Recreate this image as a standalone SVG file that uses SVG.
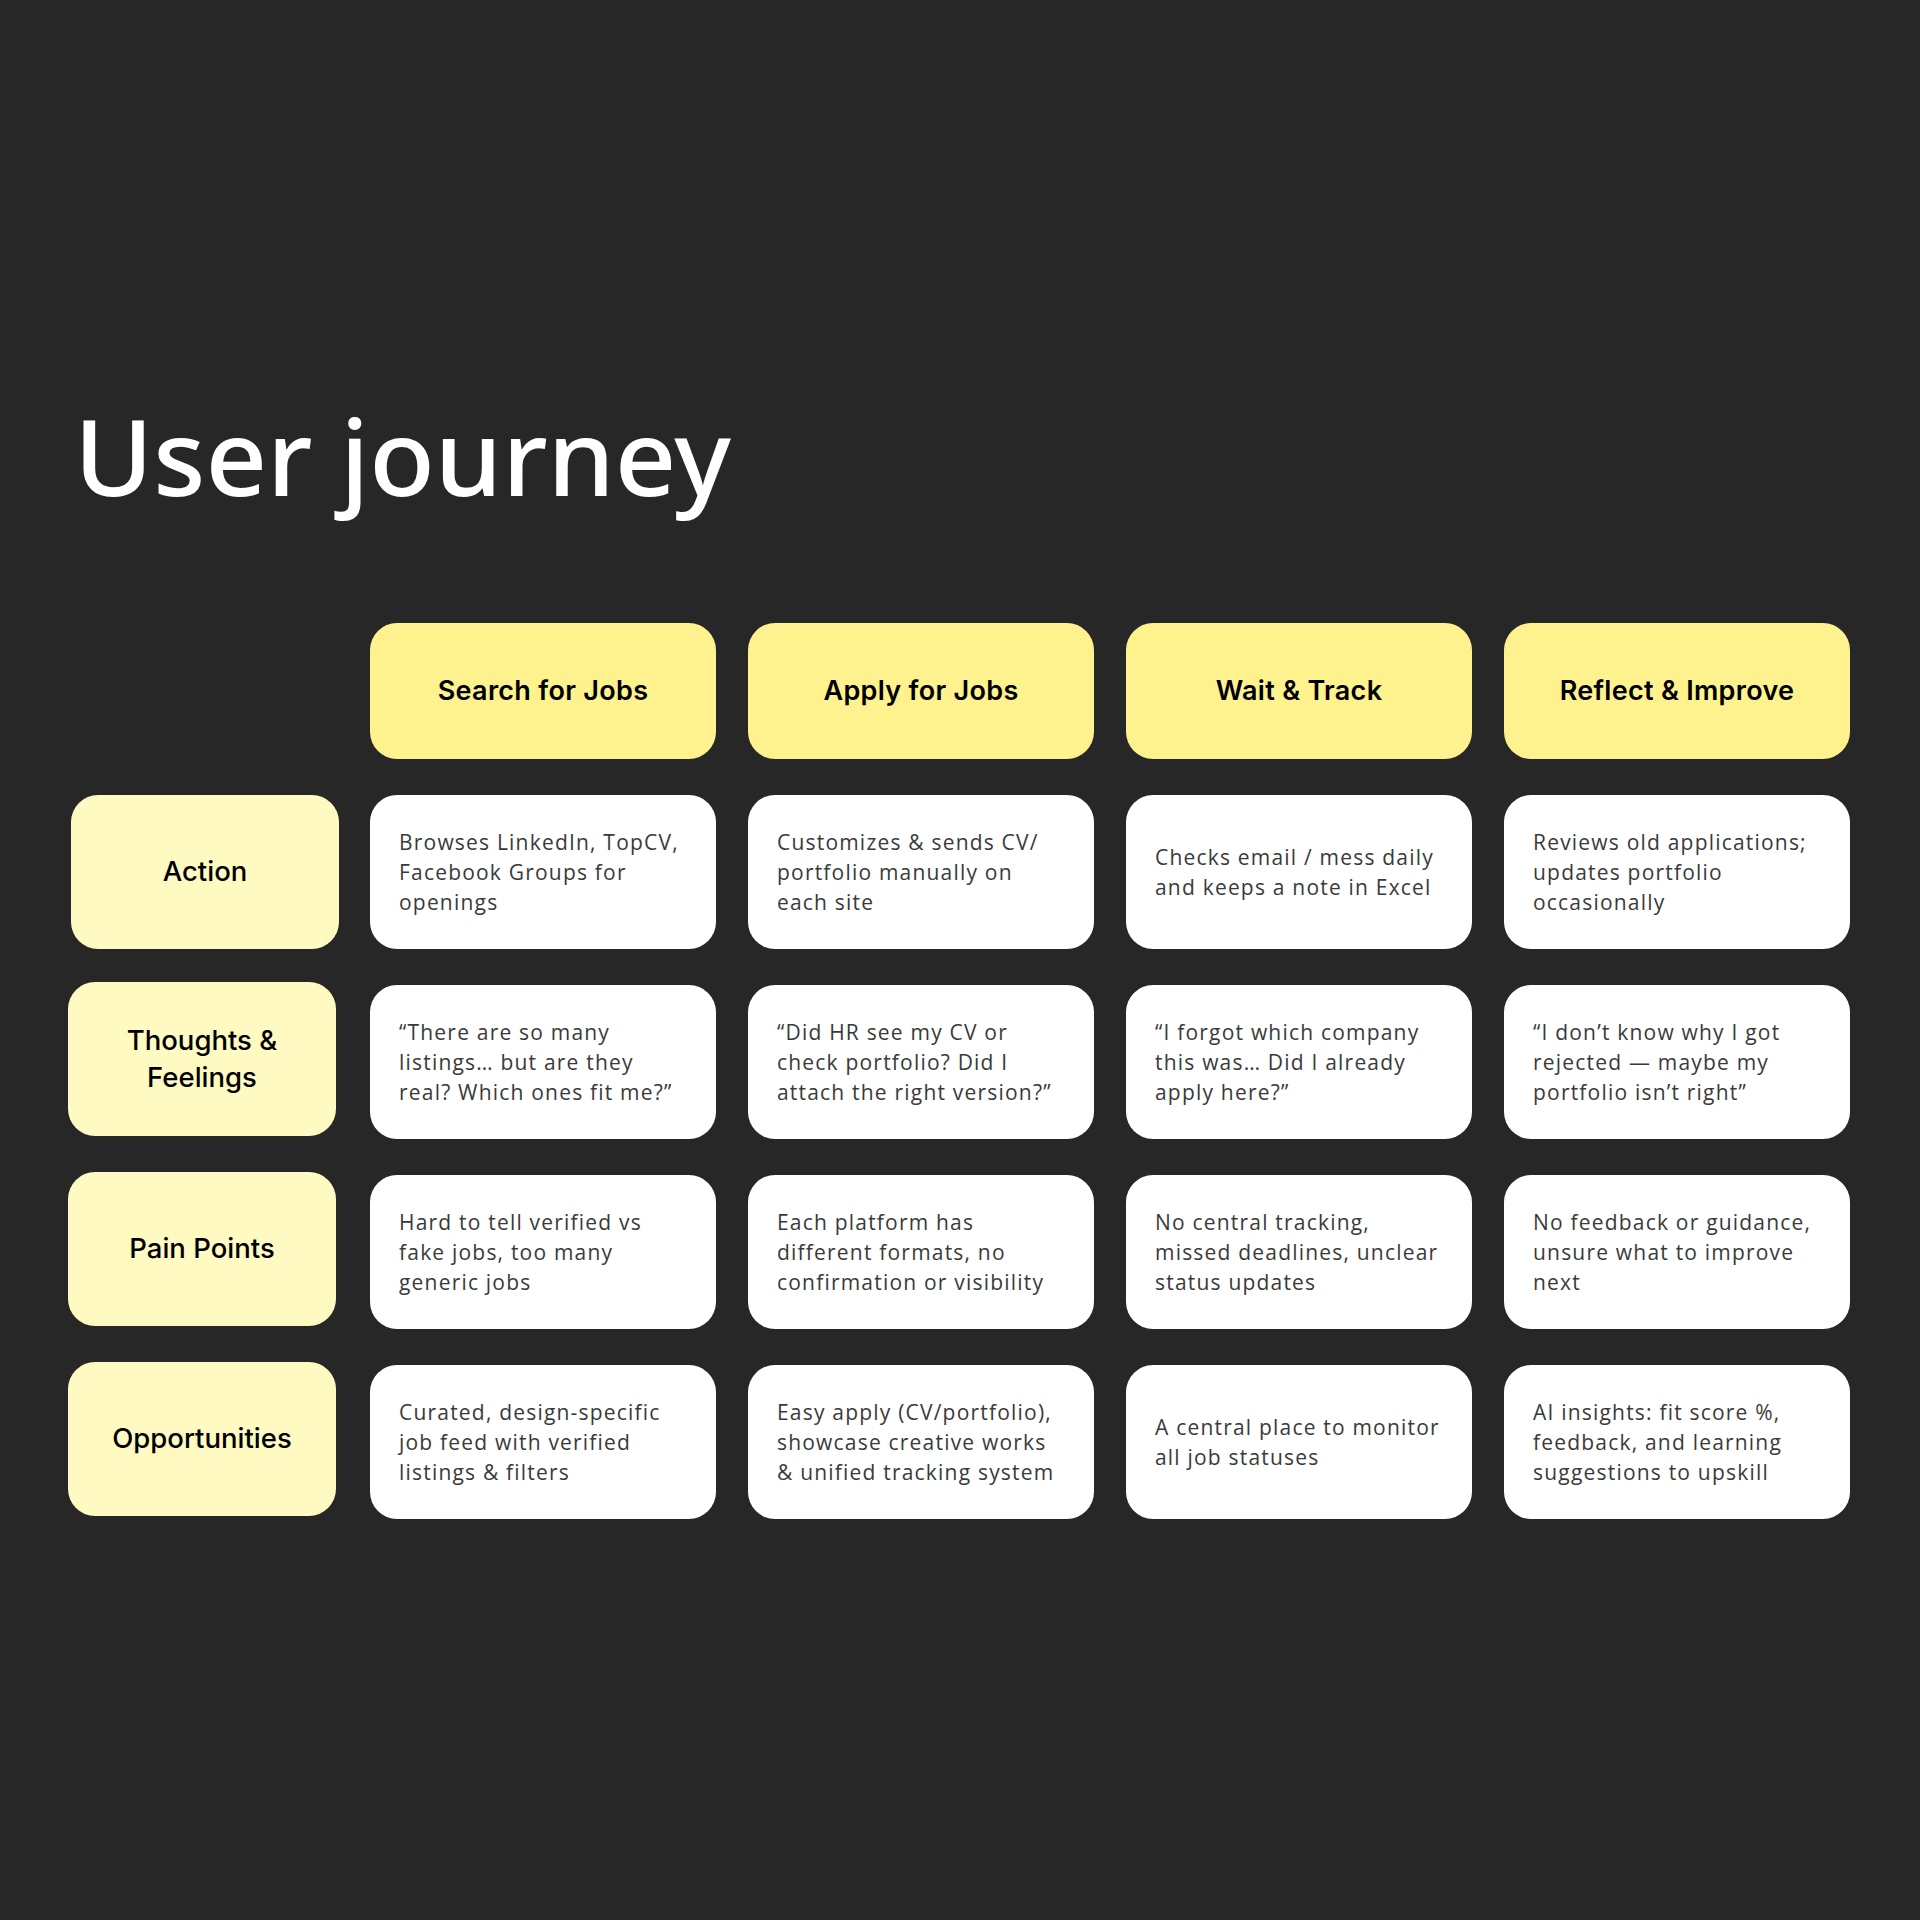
<svg xmlns="http://www.w3.org/2000/svg" width="1920" height="1920" viewBox="0 0 1920 1920">
<style>
.bg{fill:#272727}
.stage{fill:#FEF28E}
.lab{fill:#FEFAC2}
.cell{fill:#FFFFFF}
.title{font-family:"Noto Sans",sans-serif;font-weight:500;font-size:106px;fill:#FFFFFF}
.st{font-family:Inter,"Liberation Sans",sans-serif;font-weight:600;font-size:27px;fill:#000000;text-anchor:middle;letter-spacing:0.3px}
.lt{font-family:Inter,"Liberation Sans",sans-serif;font-weight:500;font-size:27.5px;fill:#000000;text-anchor:middle}
.bt{font-family:"Open Sans","Liberation Sans",sans-serif;font-size:21px;fill:#3A3A3A;letter-spacing:1.2px}
</style>
<rect class="bg" x="0" y="0" width="1920" height="1920"/>
<text class="title" x="74" y="496" textLength="657" lengthAdjust="spacingAndGlyphs">User journey</text>

<g id="stage-search"><rect class="stage" x="370" y="623" width="346" height="136" rx="27"/><text class="st" x="543" y="700">Search for Jobs</text></g>
<g id="stage-apply"><rect class="stage" x="748" y="623" width="346" height="136" rx="27"/><text class="st" x="921" y="700">Apply for Jobs</text></g>
<g id="stage-wait"><rect class="stage" x="1126" y="623" width="346" height="136" rx="27"/><text class="st" x="1299" y="700">Wait &amp; Track</text></g>
<g id="stage-reflect"><rect class="stage" x="1504" y="623" width="346" height="136" rx="27"/><text class="st" x="1677" y="700">Reflect &amp; Improve</text></g>

<g id="label-action"><rect class="lab" x="71" y="795" width="268" height="154" rx="27"/><text class="lt" x="205" y="881">Action</text></g>
<g id="label-thoughts"><rect class="lab" x="68" y="982" width="268" height="154" rx="27"/><text class="lt" x="202" y="1050">Thoughts &amp;</text><text class="lt" x="202" y="1087">Feelings</text></g>
<g id="label-pain"><rect class="lab" x="68" y="1172" width="268" height="154" rx="27"/><text class="lt" x="202" y="1258">Pain Points</text></g>
<g id="label-opp"><rect class="lab" x="68" y="1362" width="268" height="154" rx="27"/><text class="lt" x="202" y="1448">Opportunities</text></g>

<g id="action-search"><rect class="cell" x="370" y="795" width="346" height="154" rx="27"/><text class="bt"><tspan x="399" y="850">Browses LinkedIn, TopCV,</tspan><tspan x="399" y="880">Facebook Groups for</tspan><tspan x="399" y="910">openings</tspan></text></g>
<g id="action-apply"><rect class="cell" x="748" y="795" width="346" height="154" rx="27"/><text class="bt"><tspan x="777" y="850">Customizes &amp; sends CV/</tspan><tspan x="777" y="880">portfolio manually on</tspan><tspan x="777" y="910">each site</tspan></text></g>
<g id="action-wait"><rect class="cell" x="1126" y="795" width="346" height="154" rx="27"/><text class="bt"><tspan x="1155" y="865">Checks email / mess daily</tspan><tspan x="1155" y="895">and keeps a note in Excel</tspan></text></g>
<g id="action-reflect"><rect class="cell" x="1504" y="795" width="346" height="154" rx="27"/><text class="bt"><tspan x="1533" y="850">Reviews old applications;</tspan><tspan x="1533" y="880">updates portfolio</tspan><tspan x="1533" y="910">occasionally</tspan></text></g>

<g id="thoughts-search"><rect class="cell" x="370" y="985" width="346" height="154" rx="27"/><text class="bt"><tspan x="399" y="1040">“There are so many</tspan><tspan x="399" y="1070">listings… but are they</tspan><tspan x="399" y="1100">real? Which ones fit me?”</tspan></text></g>
<g id="thoughts-apply"><rect class="cell" x="748" y="985" width="346" height="154" rx="27"/><text class="bt"><tspan x="777" y="1040">“Did HR see my CV or</tspan><tspan x="777" y="1070">check portfolio? Did I</tspan><tspan x="777" y="1100">attach the right version?”</tspan></text></g>
<g id="thoughts-wait"><rect class="cell" x="1126" y="985" width="346" height="154" rx="27"/><text class="bt"><tspan x="1155" y="1040">“I forgot which company</tspan><tspan x="1155" y="1070">this was… Did I already</tspan><tspan x="1155" y="1100">apply here?”</tspan></text></g>
<g id="thoughts-reflect"><rect class="cell" x="1504" y="985" width="346" height="154" rx="27"/><text class="bt"><tspan x="1533" y="1040">“I don’t know why I got</tspan><tspan x="1533" y="1070">rejected — maybe my</tspan><tspan x="1533" y="1100">portfolio isn’t right”</tspan></text></g>

<g id="pain-search"><rect class="cell" x="370" y="1175" width="346" height="154" rx="27"/><text class="bt"><tspan x="399" y="1230">Hard to tell verified vs</tspan><tspan x="399" y="1260">fake jobs, too many</tspan><tspan x="399" y="1290">generic jobs</tspan></text></g>
<g id="pain-apply"><rect class="cell" x="748" y="1175" width="346" height="154" rx="27"/><text class="bt"><tspan x="777" y="1230">Each platform has</tspan><tspan x="777" y="1260">different formats, no</tspan><tspan x="777" y="1290">confirmation or visibility</tspan></text></g>
<g id="pain-wait"><rect class="cell" x="1126" y="1175" width="346" height="154" rx="27"/><text class="bt"><tspan x="1155" y="1230">No central tracking,</tspan><tspan x="1155" y="1260">missed deadlines, unclear</tspan><tspan x="1155" y="1290">status updates</tspan></text></g>
<g id="pain-reflect"><rect class="cell" x="1504" y="1175" width="346" height="154" rx="27"/><text class="bt"><tspan x="1533" y="1230">No feedback or guidance,</tspan><tspan x="1533" y="1260">unsure what to improve</tspan><tspan x="1533" y="1290">next</tspan></text></g>

<g id="opp-search"><rect class="cell" x="370" y="1365" width="346" height="154" rx="27"/><text class="bt"><tspan x="399" y="1420">Curated, design-specific</tspan><tspan x="399" y="1450">job feed with verified</tspan><tspan x="399" y="1480">listings &amp; filters</tspan></text></g>
<g id="opp-apply"><rect class="cell" x="748" y="1365" width="346" height="154" rx="27"/><text class="bt"><tspan x="777" y="1420">Easy apply (CV/portfolio),</tspan><tspan x="777" y="1450">showcase creative works</tspan><tspan x="777" y="1480">&amp; unified tracking system</tspan></text></g>
<g id="opp-wait"><rect class="cell" x="1126" y="1365" width="346" height="154" rx="27"/><text class="bt"><tspan x="1155" y="1435">A central place to monitor</tspan><tspan x="1155" y="1465">all job statuses</tspan></text></g>
<g id="opp-reflect"><rect class="cell" x="1504" y="1365" width="346" height="154" rx="27"/><text class="bt"><tspan x="1533" y="1420">AI insights: fit score %,</tspan><tspan x="1533" y="1450">feedback, and learning</tspan><tspan x="1533" y="1480">suggestions to upskill</tspan></text></g>

<g id="connectors"/>
</svg>
